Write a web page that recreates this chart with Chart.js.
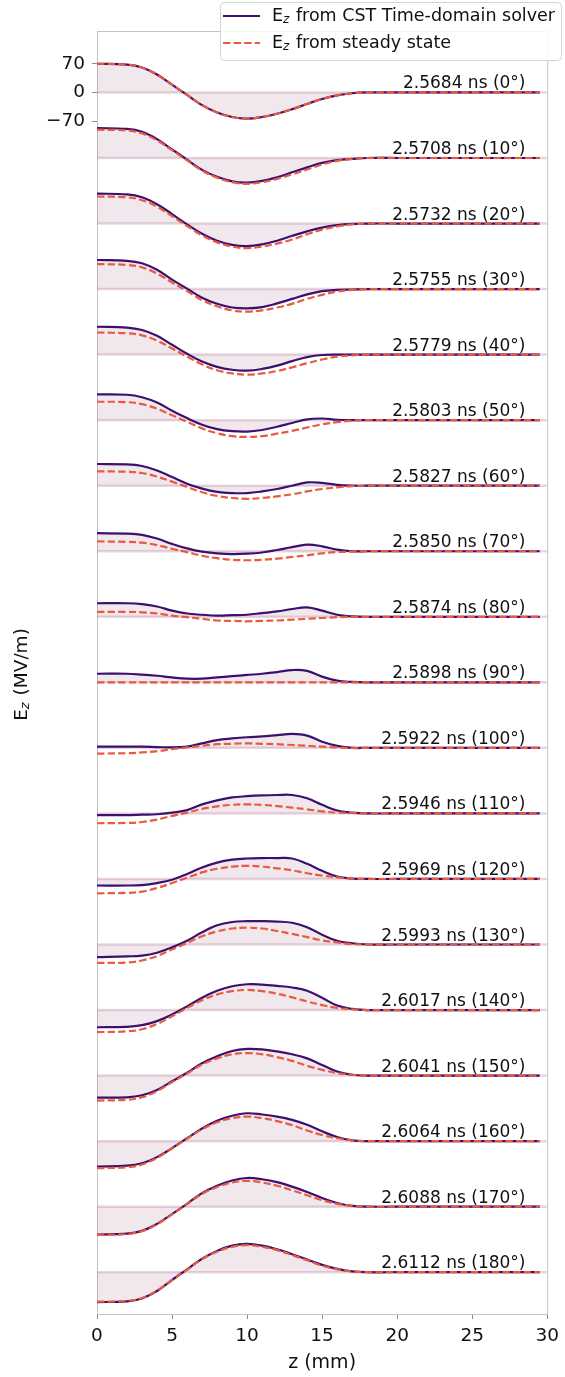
<!DOCTYPE html>
<html><head><meta charset="utf-8">
<script src="https://cdn.jsdelivr.net/npm/chart.js@4.4.1/dist/chart.umd.min.js"></script>
<style>html,body{margin:0;padding:0;background:#fff}#wrap{width:565px;height:1377px;position:relative}</style>
</head><body><div id="wrap"><canvas id="c" width="565" height="1377"></canvas></div>
<script>
// ---- data ----
const zValues = [0,2,3,4,5,6,7,8,9,10,11,12,13,14,15,16,17,18,20,29.5];
const timesNs = ['2.5684','2.5708','2.5732','2.5755','2.5779','2.5803','2.5827','2.5850','2.5874','2.5898','2.5922','2.5946','2.5969','2.5993','2.6017','2.6041','2.6064','2.6088','2.6112'];
const phaseDeg = [0,10,20,30,40,50,60,70,80,90,100,110,120,130,140,150,160,170,180];
const yTickValues = [70,0,-70];
const xTickStep = 5;

// CST time-domain (solid)
const cst000 = [70,68,61,44,19,-6,-31,-49,-60,-64,-60,-52,-41,-28,-16,-7,-2,0,0,0];
const cst010 = [73,71,64,46,21,-4,-29,-46,-57,-60,-56,-47,-35,-23,-12,-5,-2,0,0,0];
const cst020 = [73,71,64,47,23,-2,-25,-42,-52,-55,-51,-42,-30,-19,-10,-4,-1,0,0,0];
const cst030 = [71,69,63,47,23,1,-21,-36,-45,-47,-44,-35,-24,-13,-5,-2,-1,0,0,0];
const cst040 = [68,66,60,46,24,2,-17,-30,-37,-39,-35,-27,-16,-6,-1,0,0,0,0,0];
const cst050 = [63,62,56,43,23,5,-11,-22,-27,-28,-24,-16,-7,2,4,1,0,0,0,0];
const cst060 = [53,52,48,37,21,5,-7,-15,-18,-18,-14,-8,0,8,7,2,0,0,0,0];
const cst070 = [44,43,40,31,18,7,-1,-5,-7,-6,-3,3,10,16,12,4,0,0,0,0];
const cst080 = [33,33,31,25,15,8,5,3,4,5,9,13,19,23,15,5,1,0,0,0];
const cst090 = [21,21,19,16,12,9,9,12,15,18,21,25,30,28,14,4,1,0,0,0];
const cst100 = [3,3,3,2,1,3,11,19,23,26,28,31,34,30,15,5,0,0,0,0];
const cst110 = [-4,-4,-3,-2,2,8,22,32,39,42,44,45,45,37,21,7,2,0,0,0];
const cst120 = [-16,-16,-15,-10,-2,12,28,40,47,50,51,51,50,37,20,6,1,0,0,0];
const cst130 = [-31,-29,-27,-20,-7,9,30,47,55,57,57,56,53,42,24,9,3,0,0,0];
const cst140 = [-42,-41,-37,-27,-11,9,30,47,58,63,62,59,55,47,30,11,3,0,0,0];
const cst150 = [-54,-53,-48,-35,-14,7,30,47,60,65,64,59,52,42,26,10,2,0,0,0];
const cst160 = [-62,-60,-54,-39,-17,7,31,50,62,68,65,60,52,40,24,10,2,0,0,0];
const cst170 = [-68,-66,-59,-42,-18,7,33,51,64,70,67,60,49,36,21,9,2,0,0,0];
const cst180 = [-73,-71,-64,-46,-19,7,33,52,65,69,65,56,44,31,18,8,2,0,0,0];

// steady state (dashed)
const ss000 = [70,68,61,44,19,-6,-31,-49,-60,-64,-60,-52,-41,-28,-16,-7,-2,0,0,0];
const ss010 = [69,67,60,43,19,-6,-31,-48,-59,-63,-59,-51,-40,-28,-16,-7,-2,0,0,0];
const ss020 = [66,64,57,41,18,-6,-29,-46,-56,-60,-56,-49,-39,-26,-15,-7,-2,0,0,0];
const ss030 = [61,59,53,38,16,-5,-27,-42,-52,-55,-52,-45,-36,-24,-14,-6,-2,0,0,0];
const ss040 = [54,52,47,34,15,-5,-24,-38,-46,-49,-46,-40,-31,-21,-12,-5,-2,0,0,0];
const ss050 = [45,44,39,28,12,-4,-20,-32,-39,-41,-39,-33,-26,-18,-10,-5,-1,0,0,0];
const ss060 = [35,34,31,22,10,-3,-16,-25,-30,-32,-30,-26,-21,-14,-8,-4,-1,0,0,0];
const ss070 = [24,23,21,15,6,-2,-11,-17,-21,-22,-21,-18,-14,-10,-5,-2,-1,0,0,0];
const ss080 = [12,12,11,8,3,-1,-5,-9,-10,-11,-10,-9,-7,-5,-3,-1,0,0,0,0];
const ss090 = [0,0,0,0,0,0,0,0,0,0,0,0,0,0,0,0,0,0,0,0];
const ss100 = [-14,-13,-11,-8,-3,1,5,9,10,11,10,9,7,5,3,1,0,0,0,0];
const ss110 = [-24,-23,-21,-15,-6,2,11,17,21,22,21,18,14,10,5,2,1,0,0,0];
const ss120 = [-35,-34,-31,-22,-10,3,16,25,30,32,30,26,21,14,8,4,1,0,0,0];
const ss130 = [-45,-44,-39,-28,-12,4,20,32,39,41,39,33,26,18,10,5,1,0,0,0];
const ss140 = [-54,-52,-47,-34,-15,5,24,38,46,49,46,40,31,21,12,5,2,0,0,0];
const ss150 = [-61,-59,-53,-38,-16,5,27,42,52,55,52,45,36,24,14,6,2,0,0,0];
const ss160 = [-66,-64,-57,-41,-18,6,29,46,56,60,56,49,39,26,15,7,2,0,0,0];
const ss170 = [-69,-67,-60,-43,-19,6,31,48,59,63,59,51,40,28,16,7,2,0,0,0];
const ss180 = [-72,-70,-63,-45,-19,6,32,50,62,66,62,54,42,29,16,7,2,0,0,0];

const cstSeries = [cst000,cst010,cst020,cst030,cst040,cst050,cst060,cst070,cst080,cst090,cst100,cst110,cst120,cst130,cst140,cst150,cst160,cst170,cst180];
const ssSeries = [ss000,ss010,ss020,ss030,ss040,ss050,ss060,ss070,ss080,ss090,ss100,ss110,ss120,ss130,ss140,ss150,ss160,ss170,ss180];

// ---- style ----
const FONT = 'DejaVu Sans';
const OFFSET_STEP = 160;
const SOLID = '#3d0f6e';
const DASH = '#ea5a3e';
const FILL = 'rgba(128,48,96,0.11)';
const BASE = 'rgba(180,120,150,0.30)';
const SPINE = '#c4c4c4';
const TENSION = 0.4;

const datasets = [];
cstSeries.forEach((row, k) => {
  const off = -k * OFFSET_STEP;
  datasets.push({data:[{x:0,y:off},{x:30,y:off}], borderColor:BASE, borderWidth:2.5, pointRadius:0, fill:false, order:3});
  datasets.push({data: zValues.map((z,i)=>({x:z, y:row[i]+off})), borderColor:SOLID, borderWidth:2.2,
    pointRadius:0, fill:{value:off}, backgroundColor:FILL, tension:TENSION, order:2});
  datasets.push({data: zValues.map((z,i)=>({x:z, y:ssSeries[k][i]+off})), borderColor:DASH, borderWidth:2.2,
    borderDash:[7.4,3.2], pointRadius:0, fill:false, tension:TENSION, order:1});
});

function drawEz(ctx, x, y, size, rest, align) {
  const f1 = size + 'px "' + FONT + '"';
  const f2 = 'italic ' + Math.round(size*0.7) + 'px "' + FONT + '"';
  ctx.font = f1; const wE = ctx.measureText('E').width; const wR = ctx.measureText(rest).width;
  ctx.font = f2; const wz = ctx.measureText('z').width;
  const total = wE + wz + 1 + wR;
  let sx = align === 'center' ? x - total/2 : x;
  ctx.textAlign = 'left';
  ctx.font = f1; ctx.fillText('E', sx, y);
  ctx.font = f2; ctx.fillText('z', sx + wE, y + size*0.22);
  ctx.font = f1; ctx.fillText(rest, sx + wE + wz + 1, y);
}

const decor = {
  id: 'decor',
  afterDraw(chart) {
    const ctx = chart.ctx, a = chart.chartArea;
    const xs = chart.scales.x, ys = chart.scales.y;
    ctx.save();
    // top/right spines
    ctx.strokeStyle = SPINE; ctx.lineWidth = 1;
    ctx.beginPath();
    ctx.moveTo(a.left, a.top + 0.5); ctx.lineTo(a.right + 0.5, a.top + 0.5); ctx.lineTo(a.right + 0.5, a.bottom);
    ctx.stroke();
    // phase annotations
    ctx.fillStyle = '#111';
    ctx.font = '17px "' + FONT + '"';
    ctx.textAlign = 'right'; ctx.textBaseline = 'alphabetic';
    timesNs.forEach((t, k) => {
      const y = ys.getPixelForValue(-k * OFFSET_STEP) - 4;
      ctx.fillText(t + ' ns (' + phaseDeg[k] + '\u00b0)', xs.getPixelForValue(28.55), y);
    });
    // axis titles
    ctx.textBaseline = 'middle';
    ctx.font = '19px "' + FONT + '"';
    ctx.textAlign = 'center';
    ctx.fillText('z (mm)', (a.left + a.right)/2, 1363);
    ctx.save();
    ctx.translate(22, (a.top + a.bottom)/2 + 2);
    ctx.rotate(-Math.PI/2);
    drawEz(ctx, 0, 0, 18.5, ' (MV/m)', 'center');
    ctx.restore();
    // legend
    const lx = 220, ly = 2, lw = 341, lh = 58, r = 4;
    ctx.fillStyle = 'rgba(255,255,255,0.85)';
    ctx.strokeStyle = '#d4d4d4'; ctx.lineWidth = 1;
    ctx.beginPath();
    ctx.moveTo(lx + r, ly + 0.5); ctx.lineTo(lx + lw - r, ly + 0.5);
    ctx.arcTo(lx + lw + 0.5, ly + 0.5, lx + lw + 0.5, ly + r, r);
    ctx.lineTo(lx + lw + 0.5, ly + lh - r);
    ctx.arcTo(lx + lw + 0.5, ly + lh + 0.5, lx + lw - r, ly + lh + 0.5, r);
    ctx.lineTo(lx + r, ly + lh + 0.5);
    ctx.arcTo(lx + 0.5, ly + lh + 0.5, lx + 0.5, ly + lh - r, r);
    ctx.lineTo(lx + 0.5, ly + r);
    ctx.arcTo(lx + 0.5, ly + 0.5, lx + r, ly + 0.5, r);
    ctx.closePath(); ctx.fill(); ctx.stroke();
    ctx.lineWidth = 2.2;
    ctx.strokeStyle = SOLID; ctx.setLineDash([]);
    ctx.beginPath(); ctx.moveTo(223, 16); ctx.lineTo(260, 16); ctx.stroke();
    ctx.strokeStyle = DASH; ctx.setLineDash([7.4,3.2]);
    ctx.beginPath(); ctx.moveTo(223, 43); ctx.lineTo(260, 43); ctx.stroke();
    ctx.setLineDash([]);
    ctx.fillStyle = '#111'; ctx.textBaseline = 'middle';
    drawEz(ctx, 272, 16, 17.5, ' from CST Time-domain solver', 'left');
    drawEz(ctx, 272, 43, 17.5, ' from steady state', 'left');
    ctx.restore();
  }
};

new Chart(document.getElementById('c'), {
  type: 'line',
  data: { datasets },
  options: {
    responsive: false, animation: false, devicePixelRatio: 1,
    layout: { padding: { left: 0, right: 14, top: 31, bottom: 0 } },
    plugins: { legend: { display: false }, tooltip: { enabled: false } },
    scales: {
      x: {
        type: 'linear', min: 0, max: 30,
        ticks: { stepSize: xTickStep, font: { family: FONT, size: 18.5 }, color: '#111', padding: 6, maxRotation: 0 },
        grid: { drawOnChartArea: false, drawTicks: true, tickLength: 5, tickColor: '#888' },
        border: { color: SPINE, width: 1 },
        afterFit(s) { s.height = 63; }
      },
      y: {
        type: 'linear', min: -2982, max: 150,
        afterBuildTicks(s) { s.ticks = yTickValues.map(v => ({ value: v })); },
        ticks: { autoSkip: false, font: { family: FONT, size: 18.5 }, color: '#111', padding: 7,
          callback: (v) => v < 0 ? '\u2212' + Math.abs(v) : String(v) },
        grid: { drawOnChartArea: false, drawTicks: true, tickLength: 5, tickColor: '#888' },
        border: { color: SPINE, width: 1 },
        afterFit(s) { s.width = 97; }
      }
    }
  },
  plugins: [decor]
});
</script></body></html>
